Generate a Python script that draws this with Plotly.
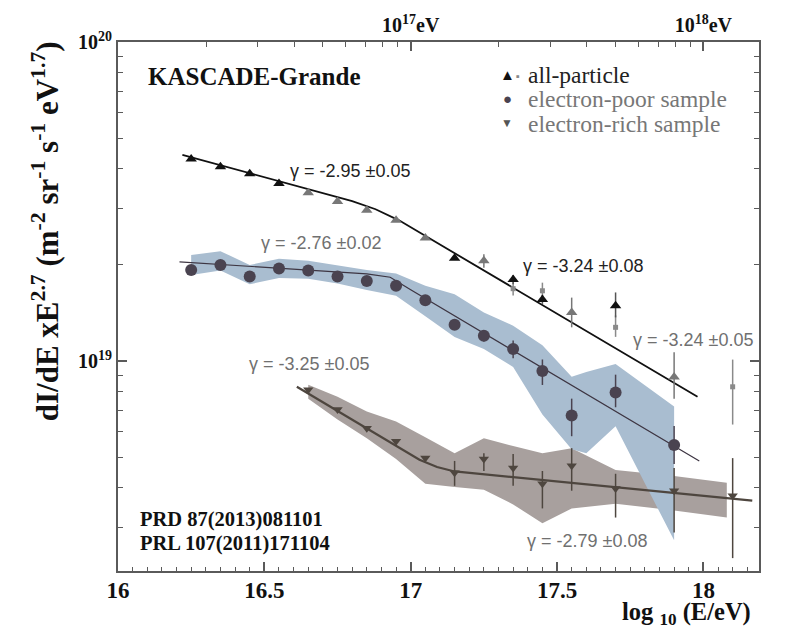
import numpy as np
import plotly.graph_objects as go

# ---------------- data ----------------
# all-particle spectrum: black triangles
AP_BLACK_X = [16.25, 16.35, 16.45, 16.55, 17.15, 17.35, 17.45, 17.70]
AP_BLACK_Y = [4.30e19, 4.06e19, 3.86e19, 3.60e19, 2.10e19, 1.80e19, 1.56e19, 1.49e19]
AP_BLACK_EP = [0, 0, 0, 0, 0, 0.06e19, 0.05e19, 0.15e19]
AP_BLACK_EM = [0, 0, 0, 0, 0, 0.06e19, 0.05e19, 0.12e19]

# all-particle spectrum: grey triangles
AP_GTRI_X = [16.65, 16.75, 16.85, 16.95, 17.05, 17.25, 17.55, 17.90]
AP_GTRI_Y = [3.37e19, 3.16e19, 2.97e19, 2.76e19, 2.43e19, 2.06e19, 1.42e19, 0.891e19]
AP_GTRI_EP = [0, 0, 0, 0, 0, 0.10e19, 0.16e19, 0.175e19]
AP_GTRI_EM = [0, 0, 0, 0, 0, 0.10e19, 0.145e19, 0.129e19]

# all-particle spectrum: grey squares
AP_GSQ_X = [17.35, 17.45, 17.70, 18.10]
AP_GSQ_Y = [1.685e19, 1.66e19, 1.275e19, 0.830e19]
AP_GSQ_EP = [0.08e19, 0.10e19, 0.115e19, 0.18e19]
AP_GSQ_EM = [0.08e19, 0.12e19, 0.085e19, 0.198e19]

# all-particle fit (nodes)
AP_FIT_X = [16.22, 16.80, 16.88, 16.96, 17.98]
AP_FIT_Y = [4.43e19, 3.17e19, 2.99e19, 2.76e19, 0.773e19]

# electron-poor sample
EP_X = [16.25, 16.35, 16.45, 16.55, 16.65, 16.75, 16.85, 16.95, 17.05, 17.15,
        17.25, 17.35, 17.45, 17.55, 17.70, 17.90]
EP_Y = [1.93e19, 2.00e19, 1.84e19, 1.95e19, 1.92e19, 1.84e19, 1.78e19, 1.72e19,
        1.55e19, 1.30e19, 1.20e19, 1.09e19, 0.931e19, 0.675e19, 0.796e19, 0.545e19]
EP_EP = [0, 0, 0, 0, 0, 0, 0, 0, 0, 0.03e19, 0.05e19, 0.07e19, 0.08e19, 0.087e19, 0.11e19, 0.08e19]
EP_EM = [0, 0, 0, 0, 0, 0, 0, 0, 0, 0.03e19, 0.05e19, 0.07e19, 0.09e19, 0.094e19, 0.08e19, 0.07e19]

EP_BAND_X = [16.25, 16.35, 16.45, 16.55, 16.65, 16.75, 16.85, 16.95, 17.05, 17.15,
             17.25, 17.35, 17.45, 17.55, 17.60, 17.70, 17.90]
EP_BAND_UP = [2.15e19, 2.21e19, 2.00e19, 2.09e19, 2.06e19, 1.99e19, 1.93e19, 1.88e19, 1.72e19,
              1.62e19, 1.42e19, 1.29e19, 1.12e19, 0.892e19, 0.924e19, 0.979e19, 0.720e19]
EP_BAND_LO = [1.86e19, 1.92e19, 1.74e19, 1.82e19, 1.81e19, 1.75e19, 1.67e19, 1.60e19, 1.38e19,
              1.19e19, 1.09e19, 0.958e19, 0.680e19, 0.529e19, 0.514e19, 0.624e19, 0.274e19]

EP_FIT_X = [16.21, 16.85, 16.93, 17.00, 17.986]
EP_FIT_Y = [2.045e19, 1.876e19, 1.83e19, 1.671e19, 0.486e19]

# electron-rich sample
ER_X = [16.65, 16.75, 16.85, 16.95, 17.05, 17.15, 17.25, 17.35, 17.45, 17.55, 17.70, 17.90, 18.10]
ER_Y = [8.13e18, 7.04e18, 6.15e18, 5.60e18, 4.96e18, 4.46e18, 4.93e18, 4.62e18, 4.12e18,
        4.69e18, 3.98e18, 3.92e18, 3.78e18]
ER_EP = [0, 0, 0, 0, 0, 0.40e18, 0.21e18, 0.49e18, 0.40e18, 0.64e18, 0.45e18, 0.70e18, 1.18e18]
ER_EM = [0, 0, 0, 0, 0, 0.40e18, 0.41e18, 0.56e18, 0.67e18, 0.77e18, 0.75e18, 1.02e18, 1.37e18]

ER_BAND_X = [16.65, 16.75, 16.85, 16.95, 17.05, 17.15, 17.25, 17.35, 17.45, 17.55, 17.70, 17.90, 18.08]
ER_BAND_UP = [8.42e18, 7.73e18, 6.94e18, 6.46e18, 5.77e18, 5.14e18, 5.73e18, 5.41e18, 5.14e18,
              5.33e18, 4.55e18, 4.36e18, 4.15e18]
ER_BAND_LO = [7.62e18, 6.56e18, 5.73e18, 4.93e18, 4.12e18, 4.03e18, 3.95e18, 3.55e18, 3.10e18,
              3.45e18, 3.57e18, 3.40e18, 3.23e18]

ER_FIT_X = [16.611, 17.03, 17.09, 17.15, 18.167]
ER_FIT_Y = [8.30e18, 4.90e18, 4.65e18, 4.505e18, 3.65e18]

# axes
X_MAJOR = [16, 16.25, 16.5, 16.75, 17, 17.25, 17.5, 17.75, 18]
X_MAJOR_TEXT = ["16", "", "16.5", "", "17", "", "17.5", "", "18"]
Y_MAJOR = [1e19, 1e20]
Y_MAJOR_TEXT = ["10<sup>19</sup>", "10<sup>20</sup>"]
TOP_MAJOR_E = [1e17, 1e18]
TOP_MAJOR_TEXT = ["10<sup>17</sup>eV", "10<sup>18</sup>eV"]
TOP_MINOR_E = [2e16, 3e16, 4e16, 5e16, 6e16, 7e16, 8e16, 9e16,
               2e17, 3e17, 4e17, 5e17, 6e17, 7e17, 8e17, 9e17]
Y_MINOR = [3e18, 4e18, 5e18, 6e18, 7e18, 8e18, 9e18,
           2e19, 3e19, 4e19, 5e19, 6e19, 7e19, 8e19, 9e19]

X_RANGE = [16.0, 18.19]
Y_RANGE = [18.3416, 20.0]

# ---------------- styling ----------------
SERIF = "Liberation Serif"
SANS = "Liberation Sans"
AXC = "#5a5a5a"
BLUE_BAND = "#a9bdd0"
GREY_BAND = "#a8a09e"
EP_COL = "#4a4350"
ER_COL = "#4e463f"

fig = go.Figure()


def band(x, up, lo, color):
    fig.add_trace(go.Scatter(x=list(x) + list(x)[::-1], y=list(up) + list(lo)[::-1],
                             fill="toself", fillcolor=color, mode="lines",
                             line=dict(width=0), hoverinfo="skip", showlegend=False))


band(ER_BAND_X, ER_BAND_UP, ER_BAND_LO, GREY_BAND)
band(EP_BAND_X, EP_BAND_UP, EP_BAND_LO, BLUE_BAND)

fig.add_trace(go.Scatter(x=AP_FIT_X, y=AP_FIT_Y, mode="lines", line=dict(color="#111", width=1.8), showlegend=False))
fig.add_trace(go.Scatter(x=EP_FIT_X, y=EP_FIT_Y, mode="lines", line=dict(color="#3d3542", width=1.2), showlegend=False))
fig.add_trace(go.Scatter(x=ER_FIT_X, y=ER_FIT_Y, mode="lines", line=dict(color=ER_COL, width=2.2), showlegend=False))


def pts(x, y, ep, em, color, symbol, size, ecol=None, ewidth=1.5):
    fig.add_trace(go.Scatter(
        x=x, y=y, mode="markers",
        marker=dict(color=color, symbol=symbol, size=size, line=dict(width=0)),
        error_y=dict(type="data", symmetric=False, array=ep, arrayminus=em,
                     color=ecol or color, thickness=ewidth, width=0),
        showlegend=False))


pts(EP_X, EP_Y, EP_EP, EP_EM, EP_COL, "circle", 12)
pts(ER_X, ER_Y, ER_EP, ER_EM, ER_COL, "triangle-down", 9)
pts(AP_GSQ_X, AP_GSQ_Y, AP_GSQ_EP, AP_GSQ_EM, "#8a8a8a", "square", 5)
pts(AP_GTRI_X, AP_GTRI_Y, AP_GTRI_EP, AP_GTRI_EM, "#777777", "triangle-up", 10)
pts(AP_BLACK_X, AP_BLACK_Y, AP_BLACK_EP, AP_BLACK_EM, "#111111", "triangle-up", 10, ecol="#555")

# invisible trace to anchor top axis
fig.add_trace(go.Scatter(x=X_RANGE, y=[1e19, 1e19], xaxis="x2", mode="markers",
                         marker=dict(opacity=0), hoverinfo="skip", showlegend=False))

fig.update_layout(
    width=799, height=629,
    margin=dict(l=118, r=40, t=37, b=58),
    paper_bgcolor="white", plot_bgcolor="white",
    showlegend=False,
    xaxis=dict(range=X_RANGE, showgrid=False, zeroline=False,
               showline=True, linecolor=AXC, linewidth=2,
               ticks="inside", ticklen=9, tickwidth=1.5, tickcolor=AXC,
               tickmode="array", tickvals=X_MAJOR, ticktext=X_MAJOR_TEXT,
               ticklabelstandoff=-3,
               tickfont=dict(family=SERIF, size=23, color="#111", weight="bold"),
               minor=dict(tickmode="array", tickvals=list(np.round(np.arange(16.05, 18.19, 0.05), 2)),
                          ticks="inside", ticklen=4, tickwidth=1.2, tickcolor=AXC)),
    xaxis2=dict(range=X_RANGE, overlaying="x", side="top", showgrid=False, zeroline=False,
                showline=True, linecolor=AXC, linewidth=2,
                ticks="inside", ticklen=9, tickwidth=1.5, tickcolor=AXC,
                tickmode="array", tickvals=list(np.log10(TOP_MAJOR_E)), ticktext=TOP_MAJOR_TEXT,
                tickfont=dict(family=SERIF, size=20, color="#111", weight="bold"),
                minor=dict(tickmode="array", tickvals=list(np.log10(TOP_MINOR_E)),
                           ticks="inside", ticklen=5, tickwidth=1.2, tickcolor=AXC)),
    yaxis=dict(type="log", range=Y_RANGE, showgrid=False, zeroline=False,
               showline=True, linecolor=AXC, linewidth=2, mirror="ticks",
               ticks="inside", ticklen=9, tickwidth=1.5, tickcolor=AXC,
               tickmode="array", tickvals=Y_MAJOR, ticktext=Y_MAJOR_TEXT,
               tickfont=dict(family=SERIF, size=20, color="#111", weight="bold"),
               minor=dict(tickmode="array", tickvals=Y_MINOR,
                          ticks="inside", ticklen=5, tickwidth=1.2, tickcolor=AXC)),
)


def px2paper(px, py):
    return (px - 118) / 641.0, (571 - py) / 534.0


def note(text, px, py, size, color="#111", family=SERIF, xanchor="left", bold=False, angle=0):
    x, y = px2paper(px, py)
    fig.add_annotation(text=text, x=x, y=y, xref="paper", yref="paper",
                       xanchor=xanchor, yanchor="middle", showarrow=False, textangle=angle,
                       borderpad=0,
                       font=dict(family=family, size=size, color=color,
                                 weight="bold" if bold else "normal"))


note("KASCADE-Grande", 147, 72, 25, bold=True)

# legend
note("▲", 507, 70, 15, color="#111", xanchor="center")
note("▪", 518, 71, 11, color="#888", xanchor="center")
note("all-particle", 527, 70, 23.5, color="#222")
note("●", 507, 95, 15, color=EP_COL, xanchor="center")
note("electron-poor sample", 527, 95, 23.5, color="#777")
note("▼", 507, 119, 12, color="#555", xanchor="center")
note("electron-rich sample", 527, 120, 23.5, color="#777")

# spectral indices
note("γ = -2.95 ±0.05", 350, 167, 18, color="#222", family=SANS, xanchor="center")
note("γ = -2.76 ±0.02", 321, 240, 18, color="#707070", family=SANS, xanchor="center")
note("γ = -3.24 ±0.08", 583, 263, 18, color="#222", family=SANS, xanchor="center")
note("γ = -3.24 ±0.05", 693, 338, 18, color="#707070", family=SANS, xanchor="center")
note("γ = -3.25 ±0.05", 309, 362, 18, color="#707070", family=SANS, xanchor="center")
note("γ = -2.79 ±0.08", 587, 541, 18, color="#707070", family=SANS, xanchor="center")

note("PRD 87(2013)081101", 139, 519, 20.5, bold=True)
note("PRL 107(2011)171104", 139, 543, 20.5, bold=True)

# axis titles
note("log <sub>10</sub> (E/eV)", 686, 614, 24.5, xanchor="center", bold=True)
note("dI/dE xE<sup>2.7</sup> (m<sup>-2</sup> sr<sup>-1</sup> s<sup>-1</sup> eV<sup>1.7</sup>)",
     45, 228, 31, xanchor="center", bold=True, angle=-90)

fig.write_html("out.html")
